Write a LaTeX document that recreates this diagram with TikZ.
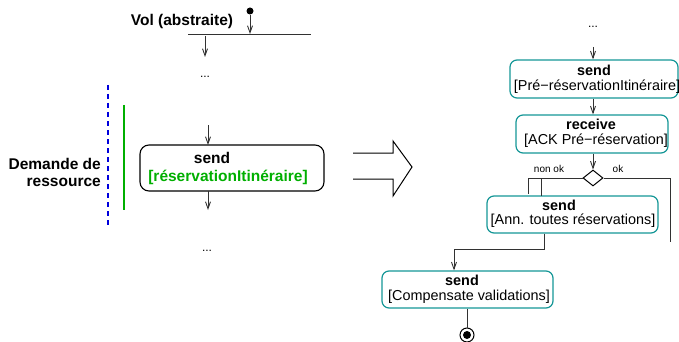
\documentclass[tikz,border=0pt]{standalone}
\usepackage{fontspec}
\setmainfont{Liberation Sans}
\usetikzlibrary{arrows.meta,shapes.geometric}
\definecolor{tealbox}{RGB}{20,150,150}
\definecolor{greenres}{RGB}{0,175,0}
\definecolor{bluedash}{RGB}{0,0,220}
\definecolor{linegray}{RGB}{50,50,50}
\tikzset{
  flow/.style={draw=linegray, line width=0.9pt, -{Straight Barb[length=7pt,width=5pt]}},
  plain/.style={draw=linegray, line width=0.9pt},
  actbox/.style={draw=tealbox, line width=1.2pt, rounded corners=7pt},
  leftbox/.style={draw=black, line width=1.1pt, rounded corners=9pt},
  boldL/.style={font=\fontsize{15.5}{18}\selectfont\bfseries, inner sep=0pt},
  boldR/.style={font=\fontsize{14.4}{17}\selectfont\bfseries, inner sep=0pt},
  txtR/.style={font=\fontsize{14.4}{17}\selectfont, inner sep=0pt},
  small/.style={font=\fontsize{10}{12}\selectfont, inner sep=0pt},
  dots/.style={font=\fontsize{12}{14}\selectfont, inner sep=0pt},
}
\begin{document}
\begin{tikzpicture}[x=1pt,y=-1pt]
\useasboundingbox (0,0) rectangle (679,342);

% ---------- left side ----------
\node[boldL] (vol) at (182,21) {Vol (abstraite)};
\node[circle, fill=black, inner sep=0pt, minimum size=7pt] (init) at (250,11) {};
\coordinate (barL) at (188,34);
\coordinate (barR) at (311,34);
\coordinate (barHit) at (250,34);
\draw[plain] (barL) -- (barR);
\draw[flow] (init) -- (barHit);
\coordinate (a1s) at (205,36);
\coordinate (a1e) at (205,57);
\draw[flow] (a1s) -- (a1e);
\node[dots] (dotsL1) at (205,77) {...};

\coordinate (bl1) at (108,85);
\coordinate (bl2) at (108,225);
\draw[bluedash, line width=2.8pt, dash pattern=on 5pt off 4pt] (bl1) -- (bl2);
\coordinate (gr1) at (124,105);
\coordinate (gr2) at (124,210);
\draw[greenres, line width=2.4pt] (gr1) -- (gr2);
\node[boldL, anchor=east] (dem1) at (101,164) {Demande de};
\node[boldL, anchor=east] (dem2) at (101,182) {ressource};

\node[leftbox, minimum width=184pt, minimum height=46pt, inner sep=0pt] (lbox) at (232,168) {};
\node[boldL] (lsend) at (212,158) {send};
\node[boldL, text=greenres] (lres) at (228,177) {[réservationItinéraire]};
\coordinate (a2s) at (208,125);
\coordinate (a2e) at (208,145);
\draw[flow] (a2s) -- (a2e);
\coordinate (a3s) at (208,191);
\coordinate (a3e) at (208,210);
\draw[flow] (a3s) -- (a3e);
\node[dots] (dotsL2) at (207,251) {...};

% ---------- big hollow arrow ----------
\coordinate (h1) at (353,153);
\coordinate (h2) at (393,153);
\coordinate (h3) at (393,141);
\coordinate (h4) at (412,167);
\coordinate (h5) at (393,196);
\coordinate (h6) at (393,179);
\coordinate (h7) at (353,179);
\draw[black, line width=1pt, line join=miter] (h1) -- (h2) -- (h3) -- (h4) -- (h5) -- (h6) -- (h7);

% ---------- right side ----------
\node[dots] (dotsR) at (593,27) {...};

\node[actbox, minimum width=168pt, minimum height=38pt, inner sep=0pt] (b1) at (594,79) {};
\node[boldR] (b1a) at (594,70) {send};
\node[txtR] (b1b) at (597,87) {[Pré−réservationItinéraire]};

\node[actbox, minimum width=152pt, minimum height=38pt, inner sep=0pt] (b2) at (592,134) {};
\node[boldR] (b2a) at (591,124) {receive};
\node[txtR] (b2b) at (596,141) {[ACK Pré−réservation]};

\coordinate (r1s) at (593,47);
\draw[flow] (r1s) -- (b1.north -| r1s);
\draw[flow] (b1.south -| r1s) -- (b2.north -| r1s);

\node[draw=black, line width=1pt, diamond, minimum width=20pt, minimum height=16pt, inner sep=0pt] (dia) at (593,178) {};
\draw[flow] (b2.south -| dia) -- (dia.north);

\node[small] (nonok) at (549,169) {non ok};
\node[small] (ok) at (618,169) {ok};

\node[actbox, minimum width=171pt, minimum height=37pt, inner sep=0pt] (b3) at (572.5,214.5) {};
\node[boldR] (b3a) at (559,205) {send};
\node[txtR] (b3b) at (573,221) {[Ann. toutes réservations]};

\coordinate (n1) at (528,178);
\coordinate (n1e) at (528,194);
\coordinate (n2) at (541,178);
\coordinate (n2e) at (541,196);
\draw[plain] (dia.west) -- (n1) -- (n1e);
\draw[plain] (n2) -- (n2e);
\coordinate (k1) at (670,178);
\coordinate (k2) at (670,242);
\draw[plain] (dia.east) -- (k1) -- (k2);

\node[actbox, minimum width=171pt, minimum height=37pt, inner sep=0pt] (b4) at (467.5,289.5) {};
\node[boldR] (b4a) at (462,280) {send};
\node[txtR] (b4b) at (469,297) {[Compensate validations]};

\coordinate (c1) at (544,249);
\coordinate (c2) at (454,249);
\draw[flow] (b3.south -| c1) -- (c1) -- (c2) -- (b4.north -| c2);

\node[circle, draw=black, line width=1pt, minimum size=14pt, inner sep=0pt] (fin) at (467,335) {};
\node[circle, fill=black, minimum size=8pt, inner sep=0pt] (finin) at (467,335) {};
\draw[plain] (b4.south -| fin) -- (fin.north);
\end{tikzpicture}
\end{document}
